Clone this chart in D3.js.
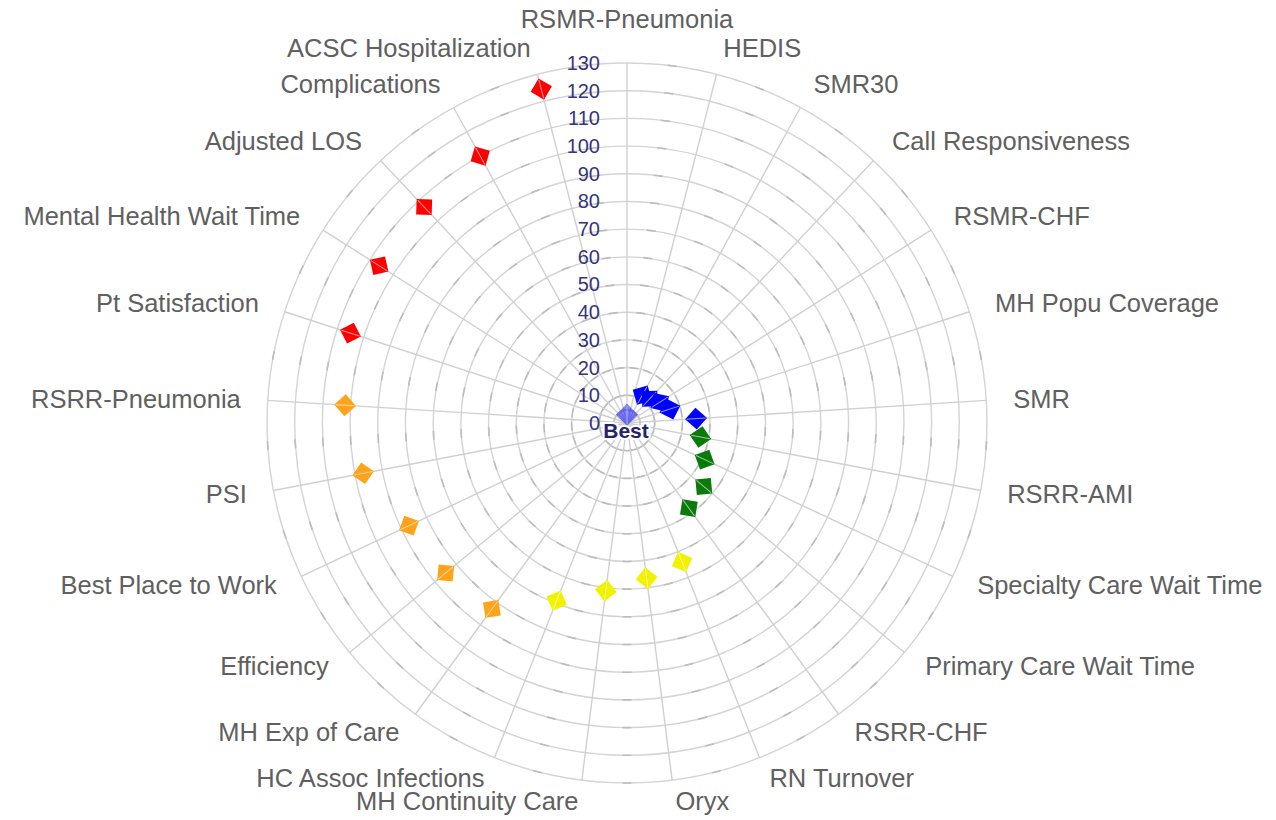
<!DOCTYPE html>
<html>
<head>
<meta charset="utf-8">
<script src="https://cdn.jsdelivr.net/npm/d3@7"></script>
<style>
  html, body { margin: 0; padding: 0; background: #ffffff; }
  svg { display: block; }
</style>
</head>
<body>
<svg id="chart" width="1276" height="820"></svg>
<script>
// ---------- data ----------
const categories = [
  "RSMR-Pneumonia", "HEDIS", "SMR30", "Call Responsiveness", "RSMR-CHF",
  "MH Popu Coverage", "SMR", "RSRR-AMI", "Specialty Care Wait Time",
  "Primary Care Wait Time", "RSRR-CHF", "RN Turnover", "Oryx",
  "MH Continuity Care", "HC Assoc Infections", "MH Exp of Care", "Efficiency",
  "Best Place to Work", "PSI", "RSRR-Pneumonia", "Pt Satisfaction",
  "Mental Health Wait Time", "Adjusted LOS", "Complications", "ACSC Hospitalization"
];
// rank-style score per category (0 = best); null = no point drawn
const values = [
  3, null, 11.5, 12, 14,
  16.3, 25, 27, 31,
  36, 38, 54, 56.5,
  61, 69, 83, 85,
  87, 97, 102, 105,
  106, 107, 110, 124.5
];
// performance tier per category (1 = best ... 5 = worst)
const tiers = [
  1, 1, 1, 1, 1,
  1, 1, 2, 2,
  2, 2, 3, 3,
  3, 3, 4, 4,
  4, 4, 4, 5,
  5, 5, 5, 5
];
const tierNames = [1, 2, 3, 4, 5];
const radialTicks = [0, 10, 20, 30, 40, 50, 60, 70, 80, 90, 100, 110, 120, 130];
const centerLabel = "Best";

// ---------- layout / style ----------
const W = 1276, H = 820;
const cx = 627, cy = 423;
const outerR = 360;
const labelR = 387;
const tierColor = d3.scaleOrdinal().domain(tierNames)
  .range(["#0000ff", "#0a7a0a", "#f2f200", "#ffa31a", "#ff0000"]);

const svg = d3.select("#chart");
svg.append("rect").attr("width", W).attr("height", H).attr("fill", "#ffffff");

const r = d3.scaleLinear().domain([0, 130]).range([0, outerR]);
const angle = d3.scaleBand().domain(categories).range([0, 2 * Math.PI]).paddingInner(0).paddingOuter(0).align(0);
const step = angle.step();

const g = svg.append("g").attr("transform", `translate(${cx},${cy})`);
const px = (a, rad) => rad * Math.sin(a);
const py = (a, rad) => -rad * Math.cos(a);

// circles
const gridVals = radialTicks.filter(v => v > 0);
g.append("g").selectAll("circle").data(gridVals).join("circle")
  .attr("r", d => r(d))
  .attr("fill", "none")
  .attr("stroke", "#d4d4d4")
  .attr("stroke-width", 1.4);

// small darker dashes on circles at mid-sector
const dashData = [];
gridVals.forEach(v => categories.forEach((c, i) => dashData.push({ v, a: angle(c) + step / 2 })));
const dashArc = d3.arc();
g.append("g").selectAll("path").data(dashData).join("path")
  .attr("d", d => {
    const rr = r(d.v), half = 4.5 / rr;
    return dashArc({ innerRadius: rr - 0.8, outerRadius: rr + 0.8, startAngle: d.a - half, endAngle: d.a + half });
  })
  .attr("fill", "#bcbcbc");

// spokes
g.append("g").selectAll("line").data(categories).join("line")
  .attr("x1", 0).attr("y1", 0)
  .attr("x2", d => px(angle(d), outerR))
  .attr("y2", d => py(angle(d), outerR))
  .attr("stroke", "#d0d0d0")
  .attr("stroke-width", 1.4);

// faint ring where spokes converge near the centre
g.append("circle").attr("r", 13).attr("fill", "none")
  .attr("stroke", "#c8c8c8").attr("stroke-width", 2);

// radial axis labels
const rInv = d3.scaleLinear().domain([0, 130]).range([0, -outerR]);
const axisG = g.append("g").call(
  d3.axisLeft(rInv).tickValues(radialTicks).tickSize(0).tickPadding(27).tickFormat(d3.format("d"))
);
axisG.select(".domain").remove();
axisG.selectAll("text")
  .attr("font-family", "'Liberation Sans', Arial, sans-serif")
  .attr("font-size", 20)
  .attr("fill", "#35357c");

// category labels
g.append("g").selectAll("text").data(categories).join("text")
  .attr("x", d => px(angle(d), labelR))
  .attr("y", d => {
    const a = angle(d);
    const y = py(a, labelR);
    if (Math.abs(Math.sin(a)) < 0.05) return y - 17;
    const c = Math.cos(a);
    return c < 0 ? y + c * 5.5 : y;
  })
  .attr("text-anchor", d => {
    const s = Math.sin(angle(d));
    return Math.abs(s) < 0.05 ? "middle" : (s > 0 ? "start" : "end");
  })
  .attr("dominant-baseline", "central")
  .attr("font-family", "'Liberation Sans', Arial, sans-serif")
  .attr("font-size", 25.5)
  .attr("fill", "#606060")
  .text(d => d);

// markers
const pts = categories.map((c, i) => ({ c, v: values[i], t: tiers[i], a: angle(c) }))
  .filter(d => d.v !== null);
const side = 15.5;
const mk = g.append("g");
const mg = mk.selectAll("g").data(pts).join("g")
  .attr("transform", d => `translate(${px(d.a, r(d.v))},${py(d.a, r(d.v))}) rotate(${d.a * 180 / Math.PI + 45})`)
  .attr("opacity", d => d.v < 5 ? 0.5 : 1);
mg.append("rect")
  .attr("x", -side / 2).attr("y", -side / 2)
  .attr("width", side).attr("height", side)
  .attr("fill", d => tierColor(d.t));
mg.append("line")
  .attr("x1", -side / 2 + 1).attr("y1", -side / 2 + 1)
  .attr("x2", side / 2 - 1).attr("y2", side / 2 - 1)
  .attr("stroke", "#ffffff").attr("stroke-opacity", 0.6).attr("stroke-width", 1);

// center label
g.append("text")
  .attr("x", -1).attr("y", 7)
  .attr("text-anchor", "middle")
  .attr("dominant-baseline", "central")
  .attr("font-family", "'Liberation Sans', Arial, sans-serif")
  .attr("font-size", 21)
  .attr("font-weight", "bold")
  .attr("fill", "#24246b")
  .attr("stroke", "#ffffff")
  .attr("stroke-width", 4)
  .attr("paint-order", "stroke")
  .text(centerLabel);
</script>
</body>
</html>
